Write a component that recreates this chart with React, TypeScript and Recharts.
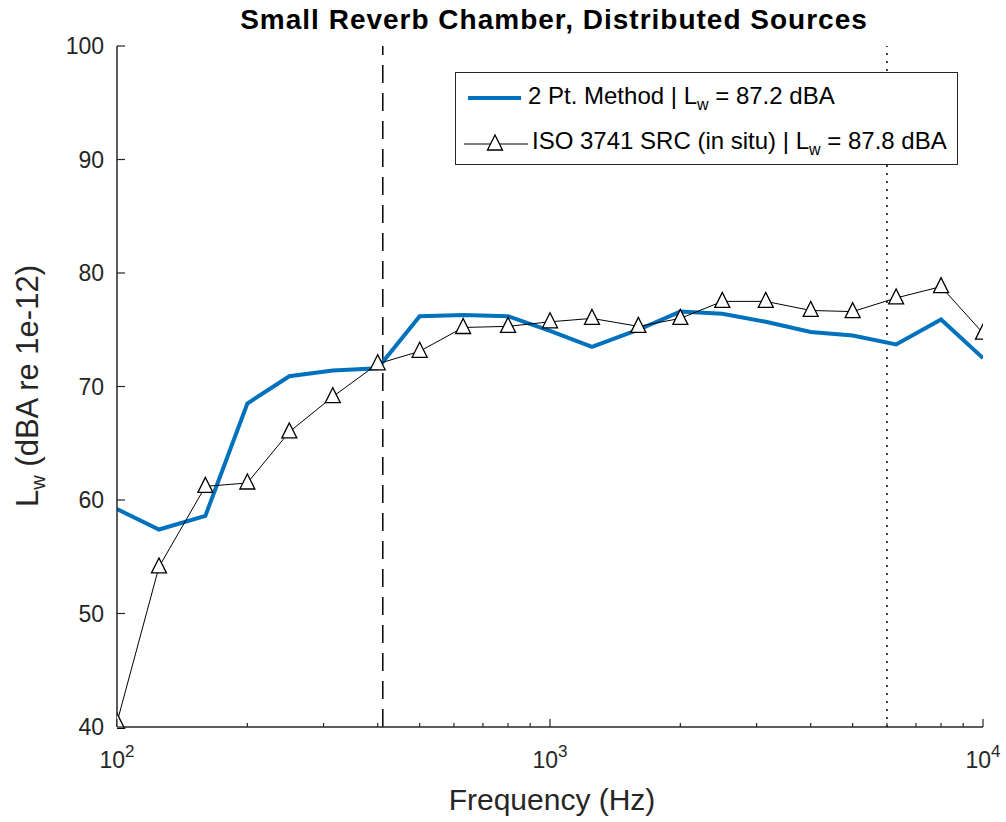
import React from "react";
import {
  LineChart,
  Line,
  XAxis,
  YAxis,
  ReferenceLine,
} from "recharts";

document.body.style.margin = "0";

const freqs = [
  100, 125, 160, 200, 250, 315, 400, 500, 630, 800, 1000, 1250, 1600, 2000,
  2500, 3150, 4000, 5000, 6300, 8000, 10000,
];
const twoPoint = [
  59.2, 57.4, 58.6, 68.5, 70.9, 71.4, 71.6, 76.2, 76.3, 76.2, 74.9, 73.5,
  75.0, 76.6, 76.4, 75.7, 74.8, 74.5, 73.7, 75.9, 72.5,
];
const iso3741 = [
  40.4, 54.1, 61.2, 61.5, 66.0, 69.1, 72.0, 73.1, 75.2, 75.3, 75.7, 76.0,
  75.3, 76.0, 77.5, 77.5, 76.7, 76.6, 77.8, 78.8, 74.7,
];
const xTicks = [
  100, 200, 300, 400, 500, 600, 700, 800, 900, 1000, 2000, 3000, 4000, 5000,
  6000, 7000, 8000, 9000, 10000,
];
const xMajor = [100, 1000, 10000];
const yTicks = [40, 50, 60, 70, 80, 90, 100];
const dashedFreq = 411;
const dottedFreq = 6000;

const data = freqs.map((f, i) => ({ f, twoPoint: twoPoint[i], iso: iso3741[i] }));

const W = 1006;
const H = 822;
const LEFT = 117;
const RIGHT = 983;
const TOP = 46;
const BOTTOM = 727;
const AX = "#262626";
const BLUE = "#0072BD";
const FONT = "'Liberation Sans', Arial, Helvetica, sans-serif";

function BottomTick(props: any) {
  const { x, payload } = props;
  const v = payload.value;
  const major = xMajor.includes(v);
  return (
    <g>
      <line x1={x} x2={x} y1={BOTTOM} y2={BOTTOM - (major ? 8 : 4)} stroke={AX} strokeWidth={1.2} />
      {major && (
        <text x={x} y={BOTTOM + 41} textAnchor="middle" fill={AX} fontSize={23} fontFamily={FONT}>
          10
          <tspan dy={-11} fontSize={17}>
            {Math.round(Math.log10(v))}
          </tspan>
        </text>
      )}
    </g>
  );
}

function TopTick(props: any) {
  const { x, payload } = props;
  const major = xMajor.includes(payload.value);
  return <line x1={x} x2={x} y1={TOP} y2={TOP + (major ? 8 : 4)} stroke={AX} strokeWidth={1.2} />;
}

function LeftTick(props: any) {
  const { y, payload } = props;
  return (
    <g>
      <line x1={LEFT} x2={LEFT + 8} y1={y} y2={y} stroke={AX} strokeWidth={1.2} />
      <text x={LEFT - 13} y={y + 8} textAnchor="end" fill={AX} fontSize={23} fontFamily={FONT}>
        {payload.value}
      </text>
    </g>
  );
}

function RightTick(props: any) {
  const { y } = props;
  return <line x1={RIGHT} x2={RIGHT - 8} y1={y} y2={y} stroke={AX} strokeWidth={1.2} />;
}

function Triangle(props: any) {
  const { cx, cy, index } = props;
  if (cx == null || cy == null) return <g key={index} />;
  const pts = `${cx},${cy - 9} ${cx - 7.5},${cy + 6} ${cx + 7.5},${cy + 6}`;
  return <polygon key={index} points={pts} fill="#fff" stroke="#000" strokeWidth={1.3} />;
}

export default function App() {
  return (
    <div style={{ position: "relative", width: W, height: H, background: "#fff", fontFamily: FONT }}>
      <LineChart
        width={W}
        height={H}
        data={data}
        margin={{ top: TOP, right: W - RIGHT, bottom: H - BOTTOM - 60, left: LEFT - 60 }}
      >
        <XAxis
          xAxisId="main"
          dataKey="f"
          type="number"
          scale="log"
          domain={[100, 10000]}
          allowDataOverflow
          ticks={xTicks}
          interval={0}
          tick={<BottomTick />}
          tickLine={false}
          height={60}
          axisLine={{ stroke: AX, strokeWidth: 1.5 }}
        />
        <XAxis
          xAxisId="top"
          orientation="top"
          dataKey="f"
          type="number"
          scale="log"
          domain={[100, 10000]}
          allowDataOverflow
          ticks={xTicks}
          interval={0}
          tick={<TopTick />}
          tickLine={false}
          height={0}
          axisLine={{ stroke: AX, strokeWidth: 1.5 }}
        />
        <YAxis
          yAxisId="main"
          type="number"
          domain={[40, 100]}
          ticks={yTicks}
          interval={0}
          tick={<LeftTick />}
          tickLine={false}
          width={60}
          axisLine={{ stroke: AX, strokeWidth: 1.5 }}
        />
        <YAxis
          yAxisId="right"
          orientation="right"
          type="number"
          domain={[40, 100]}
          ticks={yTicks}
          interval={0}
          tick={<RightTick />}
          tickLine={false}
          width={0}
          axisLine={{ stroke: AX, strokeWidth: 1.5 }}
        />
        <ReferenceLine
          xAxisId="main"
          yAxisId="main"
          x={dashedFreq}
          stroke="#000"
          strokeWidth={1.5}
          strokeDasharray="18 10"
        />
        <ReferenceLine
          xAxisId="main"
          yAxisId="main"
          x={dottedFreq}
          stroke="#000"
          strokeWidth={1.5}
          strokeDasharray="2 6"
        />
        <Line
          xAxisId="main"
          yAxisId="main"
          dataKey="twoPoint"
          type="linear"
          stroke={BLUE}
          strokeWidth={4}
          dot={false}
          isAnimationActive={false}
        />
        <Line
          xAxisId="main"
          yAxisId="main"
          dataKey="iso"
          type="linear"
          stroke="#000"
          strokeWidth={1}
          dot={Triangle}
          isAnimationActive={false}
        />
      </LineChart>

      <div
        style={{
          position: "absolute",
          left: 0,
          width: W + 102,
          top: 4,
          textAlign: "center",
          fontWeight: "bold",
          fontSize: 28,
          letterSpacing: 1,
          color: "#000",
        }}
      >
        Small Reverb Chamber, Distributed Sources
      </div>

      <div
        style={{
          position: "absolute",
          left: 0,
          width: W + 98,
          top: 783,
          textAlign: "center",
          fontSize: 30,
          color: AX,
        }}
      >
        Frequency (Hz)
      </div>

      <div
        style={{
          position: "absolute",
          left: 30,
          top: 386,
          transform: "translate(-50%, -50%) rotate(-90deg)",
          whiteSpace: "nowrap",
          fontSize: 31,
          color: AX,
        }}
      >
        L<sub style={{ fontSize: 20 }}>w</sub> (dBA re 1e-12)
      </div>

      <div
        style={{
          position: "absolute",
          left: 455,
          top: 72,
          width: 503,
          height: 93,
          boxSizing: "border-box",
          border: `1.5px solid ${AX}`,
          background: "#fff",
          fontSize: 24,
          color: "#000",
        }}
      >
        <div style={{ position: "absolute", left: 10, top: 9, display: "flex", alignItems: "center" }}>
          <svg width={56} height={20}>
            <line x1={2} x2={55} y1={10} y2={10} stroke={BLUE} strokeWidth={4} />
          </svg>
          <span style={{ marginLeft: 6 }}>
            2 Pt. Method | L<sub style={{ fontSize: 16 }}>w</sub> = 87.2 dBA
          </span>
        </div>
        <div style={{ position: "absolute", left: 7, top: 54, display: "flex", alignItems: "center" }}>
          <svg width={66} height={24}>
            <line x1={1} x2={65} y1={13} y2={13} stroke="#000" strokeWidth={1} />
            <polygon points="32,4 24.5,19 39.5,19" fill="#fff" stroke="#000" strokeWidth={1.3} />
          </svg>
          <span style={{ marginLeft: 3 }}>
            ISO 3741 SRC (in situ) | L<sub style={{ fontSize: 16 }}>w</sub> = 87.8 dBA
          </span>
        </div>
      </div>
    </div>
  );
}
